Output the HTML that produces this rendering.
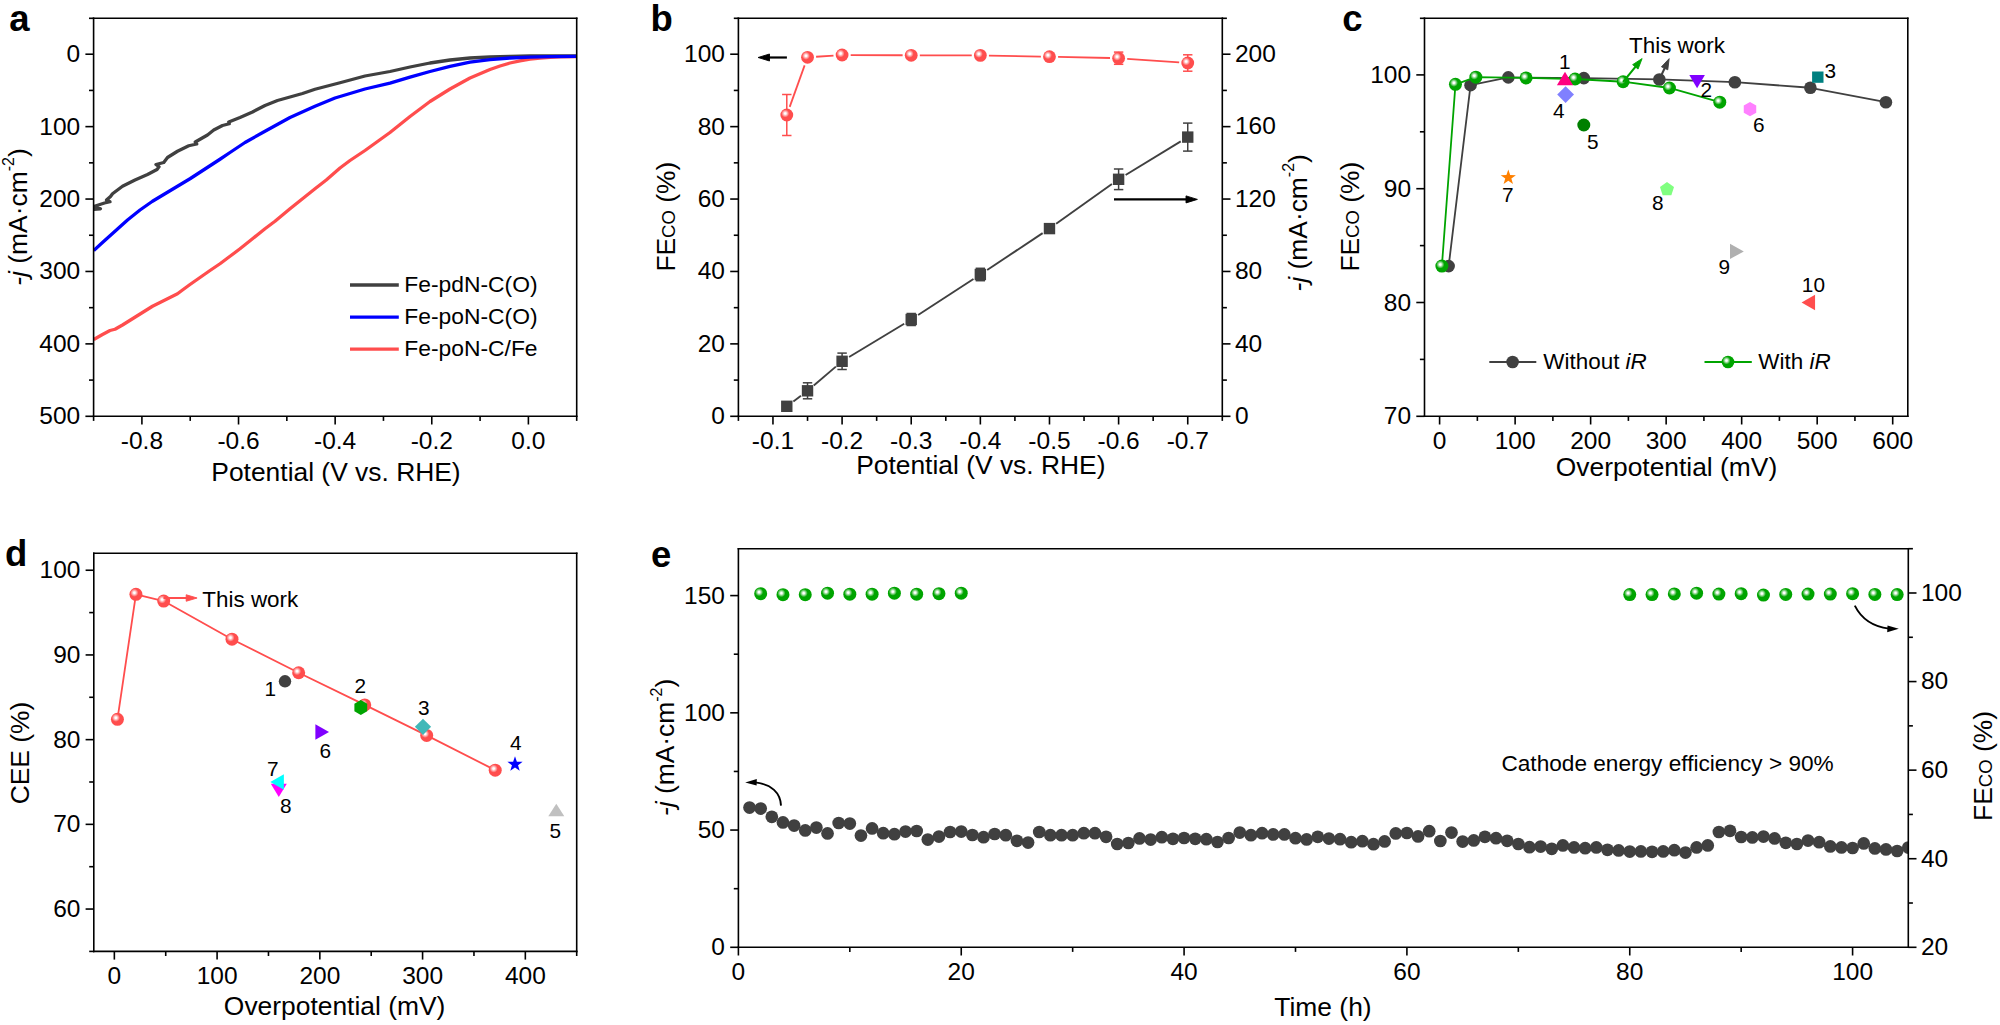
<!DOCTYPE html>
<html lang="en"><head><meta charset="utf-8"><title>Figure</title>
<style>
html,body{margin:0;padding:0;background:#fff;}
body{width:2000px;height:1025px;overflow:hidden;}
svg{display:block;font-family:"Liberation Sans", Arial, sans-serif;}
</style></head><body>
<svg width="2000" height="1025" viewBox="0 0 2000 1025">
<defs>
<radialGradient id="gr" cx="0.38" cy="0.38" r="0.31"><stop offset="0" stop-color="#fff"/><stop offset="0.2" stop-color="#fff"/><stop offset="1" stop-color="#ff4d4d"/></radialGradient>
<radialGradient id="gg" cx="0.38" cy="0.38" r="0.31"><stop offset="0" stop-color="#fff"/><stop offset="0.2" stop-color="#fff"/><stop offset="1" stop-color="#00a400"/></radialGradient>
</defs>
<g id="pa">
<clipPath id="ca"><rect x="93.6" y="18" width="483.3" height="398.3"/></clipPath><g clip-path="url(#ca)">
<polyline fill="none" stroke="#ff4d4d" stroke-width="3.3" stroke-linejoin="round" stroke-linecap="butt" points="93.75,339.5 102.5,334.5 110,330.5 115,329.25 122.5,325 132.5,318.75 142.5,312.5 152.5,306.25 165,300 177.5,293.75 182.5,290 190,284.5 202.5,275.75 210,270.5 220,263.75 230,256.25 240,248.75 252.5,238.75 265,228.75 275,221.25 290,208.75 302.5,198.75 315,188.75 326.25,180 340,168 350,160.5 365,150.5 390,132.5 410,116.5 430,101.5 450,89 470,78 490,69.5 500,66 510,63 520,60.8 530,59.2 540,58.1 550,57.4 560,56.9 576.9,56.6"/>
<polyline fill="none" stroke="#404040" stroke-width="3.3" stroke-linejoin="round" stroke-linecap="butt" points="93.75,209.25 100.5,208.75 95,207.5 93.75,206.5 104.5,203 110,201.75 106.5,200 110.5,196.5 112.5,193.75 122.5,186.25 135,180 147.5,174.5 157,169.5 159,166.75 156,164.5 163.75,162.5 167.5,157.5 177.5,151.25 188.75,145.75 196.75,144 195.25,142 207.5,135 213.75,130 222.5,125.5 229.25,123.75 228.75,122 240,117.5 252.5,112 265,105.5 277.5,100.5 290,97 302.5,93.5 315,89.25 327.5,86 340,82.75 365,76 390,71.5 410,67 430,63 450,60 470,58 490,57 510,56.3 530,56 576.9,55.9"/>
<polyline fill="none" stroke="#0000ff" stroke-width="3.3" stroke-linejoin="round" stroke-linecap="butt" points="93.75,250.5 102.5,242.5 115,231.25 127.5,220 140,210 152.5,201.25 165,193.75 190,178.75 215,162.5 220,159.25 230,152.5 245,142.5 265,131.25 290,117.5 315,106.25 335,98 365,89 390,83.2 410,77.2 430,71.5 450,66.3 470,62.1 490,59.6 510,58 530,57.1 550,56.7 576.9,56.4"/>
</g>
<line x1="93.6" y1="17.5" x2="93.6" y2="417.1" stroke="#000" stroke-width="1.6"/>
<line x1="576.7" y1="17.5" x2="576.7" y2="417.1" stroke="#000" stroke-width="1.6"/>
<line x1="92.8" y1="18.3" x2="577.5" y2="18.3" stroke="#000" stroke-width="1.6"/>
<line x1="92.8" y1="416.3" x2="577.5" y2="416.3" stroke="#000" stroke-width="1.6"/>
<line x1="141.91" y1="416.3" x2="141.91" y2="424.5" stroke="#000" stroke-width="1.6"/>
<line x1="238.53" y1="416.3" x2="238.53" y2="424.5" stroke="#000" stroke-width="1.6"/>
<line x1="335.15" y1="416.3" x2="335.15" y2="424.5" stroke="#000" stroke-width="1.6"/>
<line x1="431.77" y1="416.3" x2="431.77" y2="424.5" stroke="#000" stroke-width="1.6"/>
<line x1="528.39" y1="416.3" x2="528.39" y2="424.5" stroke="#000" stroke-width="1.6"/>
<line x1="93.6" y1="416.3" x2="93.6" y2="420.9" stroke="#000" stroke-width="1.6"/>
<line x1="190.22" y1="416.3" x2="190.22" y2="420.9" stroke="#000" stroke-width="1.6"/>
<line x1="286.84" y1="416.3" x2="286.84" y2="420.9" stroke="#000" stroke-width="1.6"/>
<line x1="383.46" y1="416.3" x2="383.46" y2="420.9" stroke="#000" stroke-width="1.6"/>
<line x1="480.08" y1="416.3" x2="480.08" y2="420.9" stroke="#000" stroke-width="1.6"/>
<line x1="576.7" y1="416.3" x2="576.7" y2="420.9" stroke="#000" stroke-width="1.6"/>
<text x="141.91" y="449.1" font-size="24.5" text-anchor="middle" fill="#000">-0.8</text>
<text x="238.53" y="449.1" font-size="24.5" text-anchor="middle" fill="#000">-0.6</text>
<text x="335.15" y="449.1" font-size="24.5" text-anchor="middle" fill="#000">-0.4</text>
<text x="431.77" y="449.1" font-size="24.5" text-anchor="middle" fill="#000">-0.2</text>
<text x="528.39" y="449.1" font-size="24.5" text-anchor="middle" fill="#000">0.0</text>
<line x1="85.4" y1="54.21" x2="93.6" y2="54.21" stroke="#000" stroke-width="1.6"/>
<line x1="85.4" y1="126.63" x2="93.6" y2="126.63" stroke="#000" stroke-width="1.6"/>
<line x1="85.4" y1="199.05" x2="93.6" y2="199.05" stroke="#000" stroke-width="1.6"/>
<line x1="85.4" y1="271.46" x2="93.6" y2="271.46" stroke="#000" stroke-width="1.6"/>
<line x1="85.4" y1="343.88" x2="93.6" y2="343.88" stroke="#000" stroke-width="1.6"/>
<line x1="85.4" y1="416.3" x2="93.6" y2="416.3" stroke="#000" stroke-width="1.6"/>
<line x1="89" y1="18.3" x2="93.6" y2="18.3" stroke="#000" stroke-width="1.6"/>
<line x1="89" y1="90.42" x2="93.6" y2="90.42" stroke="#000" stroke-width="1.6"/>
<line x1="89" y1="162.84" x2="93.6" y2="162.84" stroke="#000" stroke-width="1.6"/>
<line x1="89" y1="235.25" x2="93.6" y2="235.25" stroke="#000" stroke-width="1.6"/>
<line x1="89" y1="307.67" x2="93.6" y2="307.67" stroke="#000" stroke-width="1.6"/>
<line x1="89" y1="380.09" x2="93.6" y2="380.09" stroke="#000" stroke-width="1.6"/>
<text x="80.2" y="62.21" font-size="24.5" text-anchor="end" fill="#000">0</text>
<text x="80.2" y="134.63" font-size="24.5" text-anchor="end" fill="#000">100</text>
<text x="80.2" y="207.05" font-size="24.5" text-anchor="end" fill="#000">200</text>
<text x="80.2" y="279.46" font-size="24.5" text-anchor="end" fill="#000">300</text>
<text x="80.2" y="351.88" font-size="24.5" text-anchor="end" fill="#000">400</text>
<text x="80.2" y="424.3" font-size="24.5" text-anchor="end" fill="#000">500</text>
<text x="336" y="480.7" font-size="26.4" text-anchor="middle" fill="#000">Potential (V vs. RHE)</text>
<text transform="translate(26.6 217) rotate(-90)" font-size="26.4" text-anchor="middle" fill="#000"><tspan font-style="italic">-j</tspan> (mA·cm<tspan font-size="16" dy="-12.5">-2</tspan><tspan dy="12.5">)</tspan></text>
<line x1="350" y1="285" x2="398.8" y2="285" stroke="#404040" stroke-width="3.3"/>
<text x="404.3" y="292.2" font-size="22.85" text-anchor="start" fill="#000">Fe-pdN-C(O)</text>
<line x1="350" y1="317.1" x2="398.8" y2="317.1" stroke="#0000ff" stroke-width="3.3"/>
<text x="404.3" y="324.3" font-size="22.85" text-anchor="start" fill="#000">Fe-poN-C(O)</text>
<line x1="350" y1="349.2" x2="398.8" y2="349.2" stroke="#ff4d4d" stroke-width="3.3"/>
<text x="404.3" y="356.4" font-size="22.85" text-anchor="start" fill="#000">Fe-poN-C/Fe</text>
<text x="9.3" y="30.9" font-size="36.5" text-anchor="start" fill="#000" font-weight="bold">a</text>
</g>
<g id="pb">
<line x1="793.36" y1="401.39" x2="800.96" y2="395.71" stroke="#404040" stroke-width="1.9"/>
<line x1="813.77" y1="385.48" x2="835.86" y2="366.62" stroke="#404040" stroke-width="1.9"/>
<line x1="849.11" y1="357.06" x2="904.2" y2="323.74" stroke="#404040" stroke-width="1.9"/>
<line x1="918.09" y1="315.03" x2="973.48" y2="278.97" stroke="#404040" stroke-width="1.9"/>
<line x1="987.18" y1="269.96" x2="1042.65" y2="233.14" stroke="#404040" stroke-width="1.9"/>
<line x1="1056.15" y1="223.84" x2="1111.93" y2="184.06" stroke="#404040" stroke-width="1.9"/>
<line x1="1125.61" y1="175.03" x2="1180.74" y2="141.37" stroke="#404040" stroke-width="1.9"/>
<rect x="781.09" y="400.6" width="11.4" height="11.4" fill="#404040"/>
<line x1="807.53" y1="382.8" x2="807.53" y2="398.8" stroke="#404040" stroke-width="1.5"/>
<line x1="802.83" y1="382.8" x2="812.23" y2="382.8" stroke="#404040" stroke-width="1.5"/>
<line x1="802.83" y1="398.8" x2="812.23" y2="398.8" stroke="#404040" stroke-width="1.5"/>
<rect x="801.83" y="385.1" width="11.4" height="11.4" fill="#404040"/>
<line x1="842.09" y1="353.1" x2="842.09" y2="369.5" stroke="#404040" stroke-width="1.5"/>
<line x1="837.39" y1="353.1" x2="846.79" y2="353.1" stroke="#404040" stroke-width="1.5"/>
<line x1="837.39" y1="369.5" x2="846.79" y2="369.5" stroke="#404040" stroke-width="1.5"/>
<rect x="836.39" y="355.6" width="11.4" height="11.4" fill="#404040"/>
<line x1="911.22" y1="313.5" x2="911.22" y2="325.5" stroke="#404040" stroke-width="1.5"/>
<line x1="906.52" y1="313.5" x2="915.92" y2="313.5" stroke="#404040" stroke-width="1.5"/>
<line x1="906.52" y1="325.5" x2="915.92" y2="325.5" stroke="#404040" stroke-width="1.5"/>
<rect x="905.52" y="313.8" width="11.4" height="11.4" fill="#404040"/>
<line x1="980.35" y1="268.3" x2="980.35" y2="280.7" stroke="#404040" stroke-width="1.5"/>
<line x1="975.65" y1="268.3" x2="985.05" y2="268.3" stroke="#404040" stroke-width="1.5"/>
<line x1="975.65" y1="280.7" x2="985.05" y2="280.7" stroke="#404040" stroke-width="1.5"/>
<rect x="974.65" y="268.8" width="11.4" height="11.4" fill="#404040"/>
<line x1="1049.48" y1="226.2" x2="1049.48" y2="231" stroke="#404040" stroke-width="1.5"/>
<line x1="1044.78" y1="226.2" x2="1054.18" y2="226.2" stroke="#404040" stroke-width="1.5"/>
<line x1="1044.78" y1="231" x2="1054.18" y2="231" stroke="#404040" stroke-width="1.5"/>
<rect x="1043.78" y="222.9" width="11.4" height="11.4" fill="#404040"/>
<line x1="1118.61" y1="169" x2="1118.61" y2="189.6" stroke="#404040" stroke-width="1.5"/>
<line x1="1113.91" y1="169" x2="1123.31" y2="169" stroke="#404040" stroke-width="1.5"/>
<line x1="1113.91" y1="189.6" x2="1123.31" y2="189.6" stroke="#404040" stroke-width="1.5"/>
<rect x="1112.91" y="173.6" width="11.4" height="11.4" fill="#404040"/>
<line x1="1187.74" y1="123.1" x2="1187.74" y2="151.1" stroke="#404040" stroke-width="1.5"/>
<line x1="1183.04" y1="123.1" x2="1192.44" y2="123.1" stroke="#404040" stroke-width="1.5"/>
<line x1="1183.04" y1="151.1" x2="1192.44" y2="151.1" stroke="#404040" stroke-width="1.5"/>
<rect x="1182.04" y="131.4" width="11.4" height="11.4" fill="#404040"/>
<line x1="789.7" y1="106.91" x2="804.62" y2="65.39" stroke="#ff4d4d" stroke-width="1.8"/>
<line x1="816.11" y1="56.73" x2="833.51" y2="55.57" stroke="#ff4d4d" stroke-width="1.8"/>
<line x1="850.69" y1="55.04" x2="902.62" y2="55.26" stroke="#ff4d4d" stroke-width="1.8"/>
<line x1="919.82" y1="55.31" x2="971.75" y2="55.39" stroke="#ff4d4d" stroke-width="1.8"/>
<line x1="988.95" y1="55.56" x2="1040.88" y2="56.54" stroke="#ff4d4d" stroke-width="1.8"/>
<line x1="1058.08" y1="56.89" x2="1110.01" y2="58.01" stroke="#ff4d4d" stroke-width="1.8"/>
<line x1="1127.19" y1="58.8" x2="1179.16" y2="62.4" stroke="#ff4d4d" stroke-width="1.8"/>
<line x1="786.79" y1="94.5" x2="786.79" y2="135.5" stroke="#ff4d4d" stroke-width="1.5"/>
<line x1="782.09" y1="94.5" x2="791.49" y2="94.5" stroke="#ff4d4d" stroke-width="1.5"/>
<line x1="782.09" y1="135.5" x2="791.49" y2="135.5" stroke="#ff4d4d" stroke-width="1.5"/>
<circle cx="786.79" cy="115" r="6.4" fill="url(#gr)"/>
<circle cx="807.53" cy="57.3" r="6.4" fill="url(#gr)"/>
<circle cx="842.09" cy="55" r="6.4" fill="url(#gr)"/>
<circle cx="911.22" cy="55.3" r="6.4" fill="url(#gr)"/>
<circle cx="980.35" cy="55.4" r="6.4" fill="url(#gr)"/>
<circle cx="1049.48" cy="56.7" r="6.4" fill="url(#gr)"/>
<line x1="1118.61" y1="52.1" x2="1118.61" y2="64.3" stroke="#ff4d4d" stroke-width="1.5"/>
<line x1="1113.91" y1="52.1" x2="1123.31" y2="52.1" stroke="#ff4d4d" stroke-width="1.5"/>
<line x1="1113.91" y1="64.3" x2="1123.31" y2="64.3" stroke="#ff4d4d" stroke-width="1.5"/>
<circle cx="1118.61" cy="58.2" r="6.4" fill="url(#gr)"/>
<line x1="1187.74" y1="54.8" x2="1187.74" y2="71.2" stroke="#ff4d4d" stroke-width="1.5"/>
<line x1="1183.04" y1="54.8" x2="1192.44" y2="54.8" stroke="#ff4d4d" stroke-width="1.5"/>
<line x1="1183.04" y1="71.2" x2="1192.44" y2="71.2" stroke="#ff4d4d" stroke-width="1.5"/>
<circle cx="1187.74" cy="63" r="6.4" fill="url(#gr)"/>
<line x1="786.9" y1="57.5" x2="767.5" y2="57.5" stroke="#000" stroke-width="2.2"/>
<polygon points="758.1,57.5 769.5,54 769.5,61" fill="#000" stroke="#000" stroke-width="0.9" stroke-linejoin="round"/>
<line x1="1114" y1="199.4" x2="1188" y2="199.4" stroke="#000" stroke-width="2.2"/>
<polygon points="1197.4,199.4 1186,202.9 1186,195.9" fill="#000" stroke="#000" stroke-width="0.9" stroke-linejoin="round"/>
<line x1="738.4" y1="17.5" x2="738.4" y2="417.1" stroke="#000" stroke-width="1.6"/>
<line x1="1222.3" y1="17.5" x2="1222.3" y2="417.1" stroke="#000" stroke-width="1.6"/>
<line x1="737.6" y1="18.3" x2="1223.1" y2="18.3" stroke="#000" stroke-width="1.6"/>
<line x1="737.6" y1="416.3" x2="1223.1" y2="416.3" stroke="#000" stroke-width="1.6"/>
<line x1="772.96" y1="416.3" x2="772.96" y2="424.5" stroke="#000" stroke-width="1.6"/>
<line x1="842.09" y1="416.3" x2="842.09" y2="424.5" stroke="#000" stroke-width="1.6"/>
<line x1="911.22" y1="416.3" x2="911.22" y2="424.5" stroke="#000" stroke-width="1.6"/>
<line x1="980.35" y1="416.3" x2="980.35" y2="424.5" stroke="#000" stroke-width="1.6"/>
<line x1="1049.48" y1="416.3" x2="1049.48" y2="424.5" stroke="#000" stroke-width="1.6"/>
<line x1="1118.61" y1="416.3" x2="1118.61" y2="424.5" stroke="#000" stroke-width="1.6"/>
<line x1="1187.74" y1="416.3" x2="1187.74" y2="424.5" stroke="#000" stroke-width="1.6"/>
<line x1="738.4" y1="416.3" x2="738.4" y2="420.9" stroke="#000" stroke-width="1.6"/>
<line x1="807.53" y1="416.3" x2="807.53" y2="420.9" stroke="#000" stroke-width="1.6"/>
<line x1="876.66" y1="416.3" x2="876.66" y2="420.9" stroke="#000" stroke-width="1.6"/>
<line x1="945.79" y1="416.3" x2="945.79" y2="420.9" stroke="#000" stroke-width="1.6"/>
<line x1="1014.91" y1="416.3" x2="1014.91" y2="420.9" stroke="#000" stroke-width="1.6"/>
<line x1="1084.04" y1="416.3" x2="1084.04" y2="420.9" stroke="#000" stroke-width="1.6"/>
<line x1="1153.17" y1="416.3" x2="1153.17" y2="420.9" stroke="#000" stroke-width="1.6"/>
<line x1="1222.3" y1="416.3" x2="1222.3" y2="420.9" stroke="#000" stroke-width="1.6"/>
<text x="772.96" y="448.6" font-size="24.5" text-anchor="middle" fill="#000">-0.1</text>
<text x="842.09" y="448.6" font-size="24.5" text-anchor="middle" fill="#000">-0.2</text>
<text x="911.22" y="448.6" font-size="24.5" text-anchor="middle" fill="#000">-0.3</text>
<text x="980.35" y="448.6" font-size="24.5" text-anchor="middle" fill="#000">-0.4</text>
<text x="1049.48" y="448.6" font-size="24.5" text-anchor="middle" fill="#000">-0.5</text>
<text x="1118.61" y="448.6" font-size="24.5" text-anchor="middle" fill="#000">-0.6</text>
<text x="1187.74" y="448.6" font-size="24.5" text-anchor="middle" fill="#000">-0.7</text>
<line x1="730.2" y1="416.3" x2="738.4" y2="416.3" stroke="#000" stroke-width="1.6"/>
<line x1="730.2" y1="343.88" x2="738.4" y2="343.88" stroke="#000" stroke-width="1.6"/>
<line x1="730.2" y1="271.46" x2="738.4" y2="271.46" stroke="#000" stroke-width="1.6"/>
<line x1="730.2" y1="199.05" x2="738.4" y2="199.05" stroke="#000" stroke-width="1.6"/>
<line x1="730.2" y1="126.63" x2="738.4" y2="126.63" stroke="#000" stroke-width="1.6"/>
<line x1="730.2" y1="54.21" x2="738.4" y2="54.21" stroke="#000" stroke-width="1.6"/>
<line x1="733.8" y1="380.09" x2="738.4" y2="380.09" stroke="#000" stroke-width="1.6"/>
<line x1="733.8" y1="307.67" x2="738.4" y2="307.67" stroke="#000" stroke-width="1.6"/>
<line x1="733.8" y1="235.25" x2="738.4" y2="235.25" stroke="#000" stroke-width="1.6"/>
<line x1="733.8" y1="162.84" x2="738.4" y2="162.84" stroke="#000" stroke-width="1.6"/>
<line x1="733.8" y1="90.42" x2="738.4" y2="90.42" stroke="#000" stroke-width="1.6"/>
<line x1="733.8" y1="18.3" x2="738.4" y2="18.3" stroke="#000" stroke-width="1.6"/>
<text x="725" y="424.3" font-size="24.5" text-anchor="end" fill="#000">0</text>
<text x="725" y="351.88" font-size="24.5" text-anchor="end" fill="#000">20</text>
<text x="725" y="279.46" font-size="24.5" text-anchor="end" fill="#000">40</text>
<text x="725" y="207.05" font-size="24.5" text-anchor="end" fill="#000">60</text>
<text x="725" y="134.63" font-size="24.5" text-anchor="end" fill="#000">80</text>
<text x="725" y="62.21" font-size="24.5" text-anchor="end" fill="#000">100</text>
<line x1="1222.3" y1="416.3" x2="1230.5" y2="416.3" stroke="#000" stroke-width="1.6"/>
<line x1="1222.3" y1="343.88" x2="1230.5" y2="343.88" stroke="#000" stroke-width="1.6"/>
<line x1="1222.3" y1="271.46" x2="1230.5" y2="271.46" stroke="#000" stroke-width="1.6"/>
<line x1="1222.3" y1="199.05" x2="1230.5" y2="199.05" stroke="#000" stroke-width="1.6"/>
<line x1="1222.3" y1="126.63" x2="1230.5" y2="126.63" stroke="#000" stroke-width="1.6"/>
<line x1="1222.3" y1="54.21" x2="1230.5" y2="54.21" stroke="#000" stroke-width="1.6"/>
<line x1="1222.3" y1="380.09" x2="1226.9" y2="380.09" stroke="#000" stroke-width="1.6"/>
<line x1="1222.3" y1="307.67" x2="1226.9" y2="307.67" stroke="#000" stroke-width="1.6"/>
<line x1="1222.3" y1="235.25" x2="1226.9" y2="235.25" stroke="#000" stroke-width="1.6"/>
<line x1="1222.3" y1="162.84" x2="1226.9" y2="162.84" stroke="#000" stroke-width="1.6"/>
<line x1="1222.3" y1="90.42" x2="1226.9" y2="90.42" stroke="#000" stroke-width="1.6"/>
<line x1="1222.3" y1="18.3" x2="1226.9" y2="18.3" stroke="#000" stroke-width="1.6"/>
<text x="1234.9" y="424.1" font-size="24.5" text-anchor="start" fill="#000">0</text>
<text x="1234.9" y="351.68" font-size="24.5" text-anchor="start" fill="#000">40</text>
<text x="1234.9" y="279.26" font-size="24.5" text-anchor="start" fill="#000">80</text>
<text x="1234.9" y="206.85" font-size="24.5" text-anchor="start" fill="#000">120</text>
<text x="1234.9" y="134.43" font-size="24.5" text-anchor="start" fill="#000">160</text>
<text x="1234.9" y="62.01" font-size="24.5" text-anchor="start" fill="#000">200</text>
<text x="980.8" y="474.2" font-size="26.4" text-anchor="middle" fill="#000">Potential (V vs. RHE)</text>
<text transform="translate(674.8 216.7) rotate(-90)" font-size="26.4" text-anchor="middle" fill="#000">FE<tspan font-size="18.5">CO</tspan> (%)</text>
<text transform="translate(1306.5 222.8) rotate(-90)" font-size="26.4" text-anchor="middle" fill="#000"><tspan font-style="italic">-j</tspan> (mA·cm<tspan font-size="16" dy="-12.5">-2</tspan><tspan dy="12.5">)</tspan></text>
<text x="650.4" y="30.9" font-size="36.5" text-anchor="start" fill="#000" font-weight="bold">b</text>
</g>
<g id="pc">
<polyline fill="none" stroke="#404040" stroke-width="1.8" stroke-linejoin="round" stroke-linecap="butt" points="1448.66,266.08 1470.56,85.14 1508.32,77.4 1583.84,78.09 1659.35,79.45 1734.87,82.18 1810.38,87.76 1885.9,102.21"/>
<circle cx="1448.66" cy="266.08" r="6.3" fill="#404040"/>
<circle cx="1470.56" cy="85.14" r="6.3" fill="#404040"/>
<circle cx="1508.32" cy="77.4" r="6.3" fill="#404040"/>
<circle cx="1583.84" cy="78.09" r="6.3" fill="#404040"/>
<circle cx="1659.35" cy="79.45" r="6.3" fill="#404040"/>
<circle cx="1734.87" cy="82.18" r="6.3" fill="#404040"/>
<circle cx="1810.38" cy="87.76" r="6.3" fill="#404040"/>
<circle cx="1885.9" cy="102.21" r="6.3" fill="#404040"/>
<polyline fill="none" stroke="#00a400" stroke-width="1.8" stroke-linejoin="round" stroke-linecap="butt" points="1441.87,266.08 1455.46,84.35 1475.85,77.18 1526.07,77.97 1575.08,79 1623.11,81.73 1669.47,87.99 1719.77,102.21"/>
<circle cx="1441.87" cy="266.08" r="6.5" fill="url(#gg)"/>
<circle cx="1455.46" cy="84.35" r="6.5" fill="url(#gg)"/>
<circle cx="1475.85" cy="77.18" r="6.5" fill="url(#gg)"/>
<circle cx="1526.07" cy="77.97" r="6.5" fill="url(#gg)"/>
<circle cx="1575.08" cy="79" r="6.5" fill="url(#gg)"/>
<circle cx="1623.11" cy="81.73" r="6.5" fill="url(#gg)"/>
<circle cx="1669.47" cy="87.99" r="6.5" fill="url(#gg)"/>
<circle cx="1719.77" cy="102.21" r="6.5" fill="url(#gg)"/>
<polygon points="1565,71.7 1573.1,85.2 1556.9,85.2" fill="#ff0080"/>
<polygon points="1565.6,86.3 1574,94.6 1565.6,102.9 1557.2,94.6" fill="#8080ff"/>
<circle cx="1583.8" cy="125" r="6.5" fill="#008000"/>
<polygon points="1697.1,88.2 1704.9,75 1689.3,75" fill="#8000ff"/>
<rect x="1812.1" y="71.5" width="11.4" height="11.3" fill="#008080"/>
<polygon points="1750,101.9 1756.24,105.5 1756.24,112.7 1750,116.3 1743.76,112.7 1743.76,105.5" fill="#ff80ff"/>
<polygon points="1508.3,169.6 1510.18,175.01 1515.91,175.13 1511.34,178.59 1513,184.07 1508.3,180.8 1503.6,184.07 1505.26,178.59 1500.69,175.13 1506.42,175.01" fill="#ff8000"/>
<polygon points="1667,181.9 1674.04,187.01 1671.35,195.29 1662.65,195.29 1659.96,187.01" fill="#80ff80"/>
<polygon points="1743.8,251.4 1730,243.7 1730,259.1" fill="#b0b0b0"/>
<polygon points="1801.55,302.5 1815.05,294.75 1815.05,310.25" fill="#ff4d4d"/>
<text x="1564.7" y="68.9" font-size="20.8" text-anchor="middle" fill="#000">1</text>
<text x="1558.8" y="117.5" font-size="20.8" text-anchor="middle" fill="#000">4</text>
<text x="1592.9" y="148.9" font-size="20.8" text-anchor="middle" fill="#000">5</text>
<text x="1706.4" y="97.4" font-size="20.8" text-anchor="middle" fill="#000">2</text>
<text x="1830.4" y="78" font-size="20.8" text-anchor="middle" fill="#000">3</text>
<text x="1758.9" y="132.2" font-size="20.8" text-anchor="middle" fill="#000">6</text>
<text x="1507.9" y="202.2" font-size="20.8" text-anchor="middle" fill="#000">7</text>
<text x="1657.9" y="210.2" font-size="20.8" text-anchor="middle" fill="#000">8</text>
<text x="1724.4" y="274.2" font-size="20.8" text-anchor="middle" fill="#000">9</text>
<text x="1813.4" y="292.2" font-size="20.8" text-anchor="middle" fill="#000">10</text>
<text x="1629" y="52.8" font-size="22.45" text-anchor="start" fill="#000">This work</text>
<line x1="1623.1" y1="81.9" x2="1636.62" y2="65.31" stroke="#00a400" stroke-width="2.1"/>
<polygon points="1642.12,58.57 1638.07,69.07 1632.65,64.65" fill="#00a400" stroke="#00a400" stroke-width="0.9" stroke-linejoin="round"/>
<line x1="1659.4" y1="79.4" x2="1665.45" y2="66.52" stroke="#404040" stroke-width="2.1"/>
<polygon points="1669.15,58.64 1667.77,69.82 1661.43,66.84" fill="#404040" stroke="#404040" stroke-width="0.9" stroke-linejoin="round"/>
<line x1="1489.3" y1="362" x2="1536.3" y2="362" stroke="#404040" stroke-width="1.8"/>
<circle cx="1512.6" cy="362" r="6.3" fill="#404040"/>
<text x="1543.3" y="369.3" font-size="22.45" text-anchor="start" fill="#000">Without <tspan font-style="italic">iR</tspan></text>
<line x1="1704.5" y1="362" x2="1751.8" y2="362" stroke="#00a400" stroke-width="1.8"/>
<circle cx="1728" cy="362" r="6.3" fill="url(#gg)"/>
<text x="1758.3" y="369.3" font-size="22.45" text-anchor="start" fill="#000">With <tspan font-style="italic">iR</tspan></text>
<line x1="1424.5" y1="17.5" x2="1424.5" y2="417.1" stroke="#000" stroke-width="1.6"/>
<line x1="1907.8" y1="17.5" x2="1907.8" y2="417.1" stroke="#000" stroke-width="1.6"/>
<line x1="1423.7" y1="18.3" x2="1908.6" y2="18.3" stroke="#000" stroke-width="1.6"/>
<line x1="1423.7" y1="416.3" x2="1908.6" y2="416.3" stroke="#000" stroke-width="1.6"/>
<line x1="1439.6" y1="416.3" x2="1439.6" y2="424.5" stroke="#000" stroke-width="1.6"/>
<line x1="1515.12" y1="416.3" x2="1515.12" y2="424.5" stroke="#000" stroke-width="1.6"/>
<line x1="1590.63" y1="416.3" x2="1590.63" y2="424.5" stroke="#000" stroke-width="1.6"/>
<line x1="1666.15" y1="416.3" x2="1666.15" y2="424.5" stroke="#000" stroke-width="1.6"/>
<line x1="1741.67" y1="416.3" x2="1741.67" y2="424.5" stroke="#000" stroke-width="1.6"/>
<line x1="1817.18" y1="416.3" x2="1817.18" y2="424.5" stroke="#000" stroke-width="1.6"/>
<line x1="1892.7" y1="416.3" x2="1892.7" y2="424.5" stroke="#000" stroke-width="1.6"/>
<line x1="1477.36" y1="416.3" x2="1477.36" y2="420.9" stroke="#000" stroke-width="1.6"/>
<line x1="1552.88" y1="416.3" x2="1552.88" y2="420.9" stroke="#000" stroke-width="1.6"/>
<line x1="1628.39" y1="416.3" x2="1628.39" y2="420.9" stroke="#000" stroke-width="1.6"/>
<line x1="1703.91" y1="416.3" x2="1703.91" y2="420.9" stroke="#000" stroke-width="1.6"/>
<line x1="1779.42" y1="416.3" x2="1779.42" y2="420.9" stroke="#000" stroke-width="1.6"/>
<line x1="1854.94" y1="416.3" x2="1854.94" y2="420.9" stroke="#000" stroke-width="1.6"/>
<text x="1439.6" y="449.1" font-size="24.5" text-anchor="middle" fill="#000">0</text>
<text x="1515.12" y="449.1" font-size="24.5" text-anchor="middle" fill="#000">100</text>
<text x="1590.63" y="449.1" font-size="24.5" text-anchor="middle" fill="#000">200</text>
<text x="1666.15" y="449.1" font-size="24.5" text-anchor="middle" fill="#000">300</text>
<text x="1741.67" y="449.1" font-size="24.5" text-anchor="middle" fill="#000">400</text>
<text x="1817.18" y="449.1" font-size="24.5" text-anchor="middle" fill="#000">500</text>
<text x="1892.7" y="449.1" font-size="24.5" text-anchor="middle" fill="#000">600</text>
<line x1="1416.3" y1="416.3" x2="1424.5" y2="416.3" stroke="#000" stroke-width="1.6"/>
<line x1="1416.3" y1="302.5" x2="1424.5" y2="302.5" stroke="#000" stroke-width="1.6"/>
<line x1="1416.3" y1="188.7" x2="1424.5" y2="188.7" stroke="#000" stroke-width="1.6"/>
<line x1="1416.3" y1="74.9" x2="1424.5" y2="74.9" stroke="#000" stroke-width="1.6"/>
<line x1="1419.9" y1="359.4" x2="1424.5" y2="359.4" stroke="#000" stroke-width="1.6"/>
<line x1="1419.9" y1="245.6" x2="1424.5" y2="245.6" stroke="#000" stroke-width="1.6"/>
<line x1="1419.9" y1="131.8" x2="1424.5" y2="131.8" stroke="#000" stroke-width="1.6"/>
<line x1="1419.9" y1="18.3" x2="1424.5" y2="18.3" stroke="#000" stroke-width="1.6"/>
<text x="1411.1" y="424.3" font-size="24.5" text-anchor="end" fill="#000">70</text>
<text x="1411.1" y="310.5" font-size="24.5" text-anchor="end" fill="#000">80</text>
<text x="1411.1" y="196.7" font-size="24.5" text-anchor="end" fill="#000">90</text>
<text x="1411.1" y="82.9" font-size="24.5" text-anchor="end" fill="#000">100</text>
<text x="1666.5" y="476.2" font-size="26.4" text-anchor="middle" fill="#000">Overpotential (mV)</text>
<text transform="translate(1359.4 216.7) rotate(-90)" font-size="26.4" text-anchor="middle" fill="#000">FE<tspan font-size="18.5">CO</tspan> (%)</text>
<text x="1342.2" y="31" font-size="36.5" text-anchor="start" fill="#000" font-weight="bold">c</text>
</g>
<g id="pd">
<polyline fill="none" stroke="#ff4d4d" stroke-width="1.8" stroke-linejoin="round" stroke-linecap="butt" points="117.43,719.32 135.93,594.3 163.67,601.07 231.99,639.19 298.67,672.73 364.74,704.92 426.69,735.41 495.22,770.14"/>
<circle cx="285" cy="681.3" r="6.2" fill="#404040"/>
<circle cx="117.43" cy="719.32" r="6.5" fill="url(#gr)"/>
<circle cx="135.93" cy="594.3" r="6.5" fill="url(#gr)"/>
<circle cx="163.67" cy="601.07" r="6.5" fill="url(#gr)"/>
<circle cx="231.99" cy="639.19" r="6.5" fill="url(#gr)"/>
<circle cx="298.67" cy="672.73" r="6.5" fill="url(#gr)"/>
<circle cx="364.74" cy="704.92" r="6.5" fill="url(#gr)"/>
<polygon points="360.8,700.1 367.21,703.8 367.21,711.2 360.8,714.9 354.39,711.2 354.39,703.8" fill="#00a400"/>
<circle cx="426.69" cy="735.41" r="6.5" fill="url(#gr)"/>
<polygon points="423,718.7 431.1,726.8 423,734.9 414.9,726.8" fill="#40b8b8"/>
<circle cx="495.22" cy="770.14" r="6.5" fill="url(#gr)"/>
<polygon points="515,756.3 516.88,761.71 522.61,761.83 518.04,765.29 519.7,770.77 515,767.5 510.3,770.77 511.96,765.29 507.39,761.83 513.12,761.71" fill="#0000ff"/>
<polygon points="556.3,803.7 564.3,816.3 548.3,816.3" fill="#c0c0c0"/>
<polygon points="329.05,732 315.35,724.3 315.35,739.7" fill="#8000ff"/>
<polygon points="278.8,797 286.8,783.8 270.8,783.8" fill="#ff00ff"/>
<polygon points="270.3,782 283.9,774.3 283.9,789.7" fill="#00ffff"/>
<text x="270.4" y="696.4" font-size="20.8" text-anchor="middle" fill="#000">1</text>
<text x="360.4" y="693.4" font-size="20.8" text-anchor="middle" fill="#000">2</text>
<text x="423.7" y="715.4" font-size="20.8" text-anchor="middle" fill="#000">3</text>
<text x="515.9" y="749.7" font-size="20.8" text-anchor="middle" fill="#000">4</text>
<text x="555.4" y="838.4" font-size="20.8" text-anchor="middle" fill="#000">5</text>
<text x="325.4" y="757.9" font-size="20.8" text-anchor="middle" fill="#000">6</text>
<text x="272.9" y="775.9" font-size="20.8" text-anchor="middle" fill="#000">7</text>
<text x="285.9" y="812.7" font-size="20.8" text-anchor="middle" fill="#000">8</text>
<line x1="163.5" y1="598" x2="188.2" y2="598" stroke="#ff4d4d" stroke-width="2"/>
<polygon points="197.1,598 186.2,601.25 186.2,594.75" fill="#ff4d4d" stroke="#ff4d4d" stroke-width="0.9" stroke-linejoin="round"/>
<text x="202.3" y="606.5" font-size="22.45" text-anchor="start" fill="#000">This work</text>
<line x1="93.8" y1="552.5" x2="93.8" y2="952.2" stroke="#000" stroke-width="1.6"/>
<line x1="576.7" y1="552.5" x2="576.7" y2="952.2" stroke="#000" stroke-width="1.6"/>
<line x1="93" y1="553.3" x2="577.5" y2="553.3" stroke="#000" stroke-width="1.6"/>
<line x1="93" y1="951.4" x2="577.5" y2="951.4" stroke="#000" stroke-width="1.6"/>
<line x1="114.35" y1="951.4" x2="114.35" y2="959.6" stroke="#000" stroke-width="1.6"/>
<line x1="217.09" y1="951.4" x2="217.09" y2="959.6" stroke="#000" stroke-width="1.6"/>
<line x1="319.84" y1="951.4" x2="319.84" y2="959.6" stroke="#000" stroke-width="1.6"/>
<line x1="422.58" y1="951.4" x2="422.58" y2="959.6" stroke="#000" stroke-width="1.6"/>
<line x1="525.33" y1="951.4" x2="525.33" y2="959.6" stroke="#000" stroke-width="1.6"/>
<line x1="165.72" y1="951.4" x2="165.72" y2="956" stroke="#000" stroke-width="1.6"/>
<line x1="268.47" y1="951.4" x2="268.47" y2="956" stroke="#000" stroke-width="1.6"/>
<line x1="371.21" y1="951.4" x2="371.21" y2="956" stroke="#000" stroke-width="1.6"/>
<line x1="473.96" y1="951.4" x2="473.96" y2="956" stroke="#000" stroke-width="1.6"/>
<line x1="576.7" y1="951.4" x2="576.7" y2="956" stroke="#000" stroke-width="1.6"/>
<text x="114.35" y="984.4" font-size="24.5" text-anchor="middle" fill="#000">0</text>
<text x="217.09" y="984.4" font-size="24.5" text-anchor="middle" fill="#000">100</text>
<text x="319.84" y="984.4" font-size="24.5" text-anchor="middle" fill="#000">200</text>
<text x="422.58" y="984.4" font-size="24.5" text-anchor="middle" fill="#000">300</text>
<text x="525.33" y="984.4" font-size="24.5" text-anchor="middle" fill="#000">400</text>
<line x1="85.6" y1="909.05" x2="93.8" y2="909.05" stroke="#000" stroke-width="1.6"/>
<line x1="85.6" y1="824.35" x2="93.8" y2="824.35" stroke="#000" stroke-width="1.6"/>
<line x1="85.6" y1="739.64" x2="93.8" y2="739.64" stroke="#000" stroke-width="1.6"/>
<line x1="85.6" y1="654.94" x2="93.8" y2="654.94" stroke="#000" stroke-width="1.6"/>
<line x1="85.6" y1="570.24" x2="93.8" y2="570.24" stroke="#000" stroke-width="1.6"/>
<line x1="89.2" y1="951.4" x2="93.8" y2="951.4" stroke="#000" stroke-width="1.6"/>
<line x1="89.2" y1="866.7" x2="93.8" y2="866.7" stroke="#000" stroke-width="1.6"/>
<line x1="89.2" y1="782" x2="93.8" y2="782" stroke="#000" stroke-width="1.6"/>
<line x1="89.2" y1="697.29" x2="93.8" y2="697.29" stroke="#000" stroke-width="1.6"/>
<line x1="89.2" y1="612.59" x2="93.8" y2="612.59" stroke="#000" stroke-width="1.6"/>
<text x="80.4" y="917.05" font-size="24.5" text-anchor="end" fill="#000">60</text>
<text x="80.4" y="832.35" font-size="24.5" text-anchor="end" fill="#000">70</text>
<text x="80.4" y="747.64" font-size="24.5" text-anchor="end" fill="#000">80</text>
<text x="80.4" y="662.94" font-size="24.5" text-anchor="end" fill="#000">90</text>
<text x="80.4" y="578.24" font-size="24.5" text-anchor="end" fill="#000">100</text>
<text x="334.6" y="1015" font-size="26.4" text-anchor="middle" fill="#000">Overpotential (mV)</text>
<text transform="translate(29.1 753) rotate(-90)" font-size="26.4" text-anchor="middle" fill="#000">CEE (%)</text>
<text x="5.1" y="566.2" font-size="36.5" text-anchor="start" fill="#000" font-weight="bold">d</text>
</g>
<g id="pe">
<clipPath id="ce"><rect x="738.4" y="548.7" width="1169.9" height="398.6"/></clipPath>
<g clip-path="url(#ce)" fill="#404040">
<circle cx="749.54" cy="807.6" r="6.35"/>
<circle cx="760.68" cy="808.6" r="6.35"/>
<circle cx="771.83" cy="816.8" r="6.35"/>
<circle cx="782.97" cy="822.4" r="6.35"/>
<circle cx="794.11" cy="825.6" r="6.35"/>
<circle cx="805.25" cy="830.4" r="6.35"/>
<circle cx="816.39" cy="827.6" r="6.35"/>
<circle cx="827.54" cy="833.4" r="6.35"/>
<circle cx="838.68" cy="823" r="6.35"/>
<circle cx="849.82" cy="823.6" r="6.35"/>
<circle cx="860.96" cy="835.6" r="6.35"/>
<circle cx="872.1" cy="828.4" r="6.35"/>
<circle cx="883.24" cy="833.2" r="6.35"/>
<circle cx="894.39" cy="834.2" r="6.35"/>
<circle cx="905.53" cy="831.6" r="6.35"/>
<circle cx="916.67" cy="831" r="6.35"/>
<circle cx="927.81" cy="839.6" r="6.35"/>
<circle cx="938.95" cy="836.6" r="6.35"/>
<circle cx="950.1" cy="832" r="6.35"/>
<circle cx="961.24" cy="831.6" r="6.35"/>
<circle cx="972.38" cy="835" r="6.35"/>
<circle cx="983.52" cy="837.2" r="6.35"/>
<circle cx="994.66" cy="834" r="6.35"/>
<circle cx="1005.81" cy="835.2" r="6.35"/>
<circle cx="1016.95" cy="840.8" r="6.35"/>
<circle cx="1028.09" cy="842.6" r="6.35"/>
<circle cx="1039.23" cy="832" r="6.35"/>
<circle cx="1050.37" cy="835.2" r="6.35"/>
<circle cx="1061.52" cy="835.2" r="6.35"/>
<circle cx="1072.66" cy="835.2" r="6.35"/>
<circle cx="1083.8" cy="833.2" r="6.35"/>
<circle cx="1094.94" cy="833.2" r="6.35"/>
<circle cx="1106.08" cy="836.8" r="6.35"/>
<circle cx="1117.22" cy="844" r="6.35"/>
<circle cx="1128.37" cy="843" r="6.35"/>
<circle cx="1139.51" cy="838.4" r="6.35"/>
<circle cx="1150.65" cy="839.6" r="6.35"/>
<circle cx="1161.79" cy="837.2" r="6.35"/>
<circle cx="1172.93" cy="838.8" r="6.35"/>
<circle cx="1184.08" cy="838" r="6.35"/>
<circle cx="1195.22" cy="838.8" r="6.35"/>
<circle cx="1206.36" cy="839.2" r="6.35"/>
<circle cx="1217.5" cy="842" r="6.35"/>
<circle cx="1228.64" cy="838" r="6.35"/>
<circle cx="1239.79" cy="832.6" r="6.35"/>
<circle cx="1250.93" cy="835.2" r="6.35"/>
<circle cx="1262.07" cy="833.2" r="6.35"/>
<circle cx="1273.21" cy="834.4" r="6.35"/>
<circle cx="1284.35" cy="834.4" r="6.35"/>
<circle cx="1295.5" cy="838.2" r="6.35"/>
<circle cx="1306.64" cy="839.4" r="6.35"/>
<circle cx="1317.78" cy="836.8" r="6.35"/>
<circle cx="1328.92" cy="838.6" r="6.35"/>
<circle cx="1340.06" cy="839.2" r="6.35"/>
<circle cx="1351.2" cy="842.2" r="6.35"/>
<circle cx="1362.35" cy="841.2" r="6.35"/>
<circle cx="1373.49" cy="844.2" r="6.35"/>
<circle cx="1384.63" cy="841.4" r="6.35"/>
<circle cx="1395.77" cy="833.4" r="6.35"/>
<circle cx="1406.91" cy="833" r="6.35"/>
<circle cx="1418.06" cy="836.4" r="6.35"/>
<circle cx="1429.2" cy="831.2" r="6.35"/>
<circle cx="1440.34" cy="841" r="6.35"/>
<circle cx="1451.48" cy="832.6" r="6.35"/>
<circle cx="1462.62" cy="841.6" r="6.35"/>
<circle cx="1473.77" cy="840.4" r="6.35"/>
<circle cx="1484.91" cy="836.8" r="6.35"/>
<circle cx="1496.05" cy="838.2" r="6.35"/>
<circle cx="1507.19" cy="840.8" r="6.35"/>
<circle cx="1518.33" cy="844" r="6.35"/>
<circle cx="1529.48" cy="847.2" r="6.35"/>
<circle cx="1540.62" cy="846.6" r="6.35"/>
<circle cx="1551.76" cy="848.8" r="6.35"/>
<circle cx="1562.9" cy="845.4" r="6.35"/>
<circle cx="1574.04" cy="847.4" r="6.35"/>
<circle cx="1585.18" cy="848.2" r="6.35"/>
<circle cx="1596.33" cy="847.4" r="6.35"/>
<circle cx="1607.47" cy="849.8" r="6.35"/>
<circle cx="1618.61" cy="850.4" r="6.35"/>
<circle cx="1629.75" cy="851.6" r="6.35"/>
<circle cx="1640.89" cy="851.4" r="6.35"/>
<circle cx="1652.04" cy="851.8" r="6.35"/>
<circle cx="1663.18" cy="851.4" r="6.35"/>
<circle cx="1674.32" cy="850.2" r="6.35"/>
<circle cx="1685.46" cy="852.6" r="6.35"/>
<circle cx="1696.6" cy="847.4" r="6.35"/>
<circle cx="1707.75" cy="845.4" r="6.35"/>
<circle cx="1718.89" cy="832" r="6.35"/>
<circle cx="1730.03" cy="830.8" r="6.35"/>
<circle cx="1741.17" cy="837" r="6.35"/>
<circle cx="1752.31" cy="837.4" r="6.35"/>
<circle cx="1763.46" cy="836.6" r="6.35"/>
<circle cx="1774.6" cy="838.4" r="6.35"/>
<circle cx="1785.74" cy="842.8" r="6.35"/>
<circle cx="1796.88" cy="844" r="6.35"/>
<circle cx="1808.02" cy="840.6" r="6.35"/>
<circle cx="1819.16" cy="842.2" r="6.35"/>
<circle cx="1830.31" cy="846.4" r="6.35"/>
<circle cx="1841.45" cy="847.4" r="6.35"/>
<circle cx="1852.59" cy="848" r="6.35"/>
<circle cx="1863.73" cy="843.4" r="6.35"/>
<circle cx="1874.87" cy="848.4" r="6.35"/>
<circle cx="1886.02" cy="849.4" r="6.35"/>
<circle cx="1897.16" cy="851" r="6.35"/>
<circle cx="1908.3" cy="847.6" r="6.35"/>
</g>
<circle cx="760.68" cy="593.7" r="6.5" fill="url(#gg)"/>
<circle cx="782.97" cy="594.7" r="6.5" fill="url(#gg)"/>
<circle cx="805.25" cy="594.7" r="6.5" fill="url(#gg)"/>
<circle cx="827.54" cy="593.2" r="6.5" fill="url(#gg)"/>
<circle cx="849.82" cy="594.2" r="6.5" fill="url(#gg)"/>
<circle cx="872.1" cy="594.2" r="6.5" fill="url(#gg)"/>
<circle cx="894.39" cy="593.2" r="6.5" fill="url(#gg)"/>
<circle cx="916.67" cy="594.2" r="6.5" fill="url(#gg)"/>
<circle cx="938.95" cy="593.7" r="6.5" fill="url(#gg)"/>
<circle cx="961.24" cy="593.2" r="6.5" fill="url(#gg)"/>
<circle cx="1629.75" cy="594.6" r="6.5" fill="url(#gg)"/>
<circle cx="1652.04" cy="594.6" r="6.5" fill="url(#gg)"/>
<circle cx="1674.32" cy="593.9" r="6.5" fill="url(#gg)"/>
<circle cx="1696.6" cy="593.2" r="6.5" fill="url(#gg)"/>
<circle cx="1718.89" cy="594.1" r="6.5" fill="url(#gg)"/>
<circle cx="1741.17" cy="593.7" r="6.5" fill="url(#gg)"/>
<circle cx="1763.46" cy="595.1" r="6.5" fill="url(#gg)"/>
<circle cx="1785.74" cy="594.4" r="6.5" fill="url(#gg)"/>
<circle cx="1808.02" cy="594.1" r="6.5" fill="url(#gg)"/>
<circle cx="1830.31" cy="594.1" r="6.5" fill="url(#gg)"/>
<circle cx="1852.59" cy="593.7" r="6.5" fill="url(#gg)"/>
<circle cx="1874.87" cy="594.4" r="6.5" fill="url(#gg)"/>
<circle cx="1897.16" cy="594.6" r="6.5" fill="url(#gg)"/>
<path d="M781,805.6 C780.5,793 771.5,784 755,782.4" fill="none" stroke="#000" stroke-width="1.9"/>
<polygon points="745.2,782.6 756.8,779 756.6,785.6" fill="#000"/>
<path d="M1854.8,605.6 C1861,618 1872,626.5 1889,628.6" fill="none" stroke="#000" stroke-width="1.9"/>
<polygon points="1898.8,628.8 1887.2,632.2 1887.5,625.6" fill="#000"/>
<text x="1833.7" y="771.4" font-size="22.63" text-anchor="end" fill="#000">Cathode energy efficiency &gt; 90%</text>
<line x1="738.4" y1="547.9" x2="738.4" y2="948.1" stroke="#000" stroke-width="1.6"/>
<line x1="1908.3" y1="547.9" x2="1908.3" y2="948.1" stroke="#000" stroke-width="1.6"/>
<line x1="737.6" y1="548.7" x2="1909.1" y2="548.7" stroke="#000" stroke-width="1.6"/>
<line x1="737.6" y1="947.3" x2="1909.1" y2="947.3" stroke="#000" stroke-width="1.6"/>
<line x1="738.4" y1="947.3" x2="738.4" y2="955.5" stroke="#000" stroke-width="1.6"/>
<line x1="961.24" y1="947.3" x2="961.24" y2="955.5" stroke="#000" stroke-width="1.6"/>
<line x1="1184.08" y1="947.3" x2="1184.08" y2="955.5" stroke="#000" stroke-width="1.6"/>
<line x1="1406.91" y1="947.3" x2="1406.91" y2="955.5" stroke="#000" stroke-width="1.6"/>
<line x1="1629.75" y1="947.3" x2="1629.75" y2="955.5" stroke="#000" stroke-width="1.6"/>
<line x1="1852.59" y1="947.3" x2="1852.59" y2="955.5" stroke="#000" stroke-width="1.6"/>
<line x1="849.82" y1="947.3" x2="849.82" y2="951.9" stroke="#000" stroke-width="1.6"/>
<line x1="1072.66" y1="947.3" x2="1072.66" y2="951.9" stroke="#000" stroke-width="1.6"/>
<line x1="1295.5" y1="947.3" x2="1295.5" y2="951.9" stroke="#000" stroke-width="1.6"/>
<line x1="1518.33" y1="947.3" x2="1518.33" y2="951.9" stroke="#000" stroke-width="1.6"/>
<line x1="1741.17" y1="947.3" x2="1741.17" y2="951.9" stroke="#000" stroke-width="1.6"/>
<text x="738.4" y="980.2" font-size="24.5" text-anchor="middle" fill="#000">0</text>
<text x="961.24" y="980.2" font-size="24.5" text-anchor="middle" fill="#000">20</text>
<text x="1184.08" y="980.2" font-size="24.5" text-anchor="middle" fill="#000">40</text>
<text x="1406.91" y="980.2" font-size="24.5" text-anchor="middle" fill="#000">60</text>
<text x="1629.75" y="980.2" font-size="24.5" text-anchor="middle" fill="#000">80</text>
<text x="1852.59" y="980.2" font-size="24.5" text-anchor="middle" fill="#000">100</text>
<line x1="730.2" y1="947.3" x2="738.4" y2="947.3" stroke="#000" stroke-width="1.6"/>
<line x1="730.2" y1="830.06" x2="738.4" y2="830.06" stroke="#000" stroke-width="1.6"/>
<line x1="730.2" y1="712.83" x2="738.4" y2="712.83" stroke="#000" stroke-width="1.6"/>
<line x1="730.2" y1="595.59" x2="738.4" y2="595.59" stroke="#000" stroke-width="1.6"/>
<line x1="733.8" y1="888.68" x2="738.4" y2="888.68" stroke="#000" stroke-width="1.6"/>
<line x1="733.8" y1="771.45" x2="738.4" y2="771.45" stroke="#000" stroke-width="1.6"/>
<line x1="733.8" y1="654.21" x2="738.4" y2="654.21" stroke="#000" stroke-width="1.6"/>
<text x="725" y="955.3" font-size="24.5" text-anchor="end" fill="#000">0</text>
<text x="725" y="838.06" font-size="24.5" text-anchor="end" fill="#000">50</text>
<text x="725" y="720.83" font-size="24.5" text-anchor="end" fill="#000">100</text>
<text x="725" y="603.59" font-size="24.5" text-anchor="end" fill="#000">150</text>
<line x1="1908.3" y1="947.3" x2="1916.5" y2="947.3" stroke="#000" stroke-width="1.6"/>
<line x1="1908.3" y1="858.72" x2="1916.5" y2="858.72" stroke="#000" stroke-width="1.6"/>
<line x1="1908.3" y1="770.14" x2="1916.5" y2="770.14" stroke="#000" stroke-width="1.6"/>
<line x1="1908.3" y1="681.57" x2="1916.5" y2="681.57" stroke="#000" stroke-width="1.6"/>
<line x1="1908.3" y1="592.99" x2="1916.5" y2="592.99" stroke="#000" stroke-width="1.6"/>
<line x1="1908.3" y1="903.01" x2="1912.9" y2="903.01" stroke="#000" stroke-width="1.6"/>
<line x1="1908.3" y1="814.43" x2="1912.9" y2="814.43" stroke="#000" stroke-width="1.6"/>
<line x1="1908.3" y1="725.86" x2="1912.9" y2="725.86" stroke="#000" stroke-width="1.6"/>
<line x1="1908.3" y1="637.28" x2="1912.9" y2="637.28" stroke="#000" stroke-width="1.6"/>
<line x1="1908.3" y1="548.7" x2="1912.9" y2="548.7" stroke="#000" stroke-width="1.6"/>
<text x="1920.9" y="955.1" font-size="24.5" text-anchor="start" fill="#000">20</text>
<text x="1920.9" y="866.52" font-size="24.5" text-anchor="start" fill="#000">40</text>
<text x="1920.9" y="777.94" font-size="24.5" text-anchor="start" fill="#000">60</text>
<text x="1920.9" y="689.37" font-size="24.5" text-anchor="start" fill="#000">80</text>
<text x="1920.9" y="600.79" font-size="24.5" text-anchor="start" fill="#000">100</text>
<text x="1323" y="1016.2" font-size="26.4" text-anchor="middle" fill="#000">Time (h)</text>
<text transform="translate(674.2 747.4) rotate(-90)" font-size="26.4" text-anchor="middle" fill="#000"><tspan font-style="italic">-j</tspan> (mA·cm<tspan font-size="16" dy="-12.5">-2</tspan><tspan dy="12.5">)</tspan></text>
<text transform="translate(1992 766) rotate(-90)" font-size="26.4" text-anchor="middle" fill="#000">FE<tspan font-size="18.5">CO</tspan> (%)</text>
<text x="651" y="566.8" font-size="36.5" text-anchor="start" fill="#000" font-weight="bold">e</text>
</g>
</svg>
</body></html>
